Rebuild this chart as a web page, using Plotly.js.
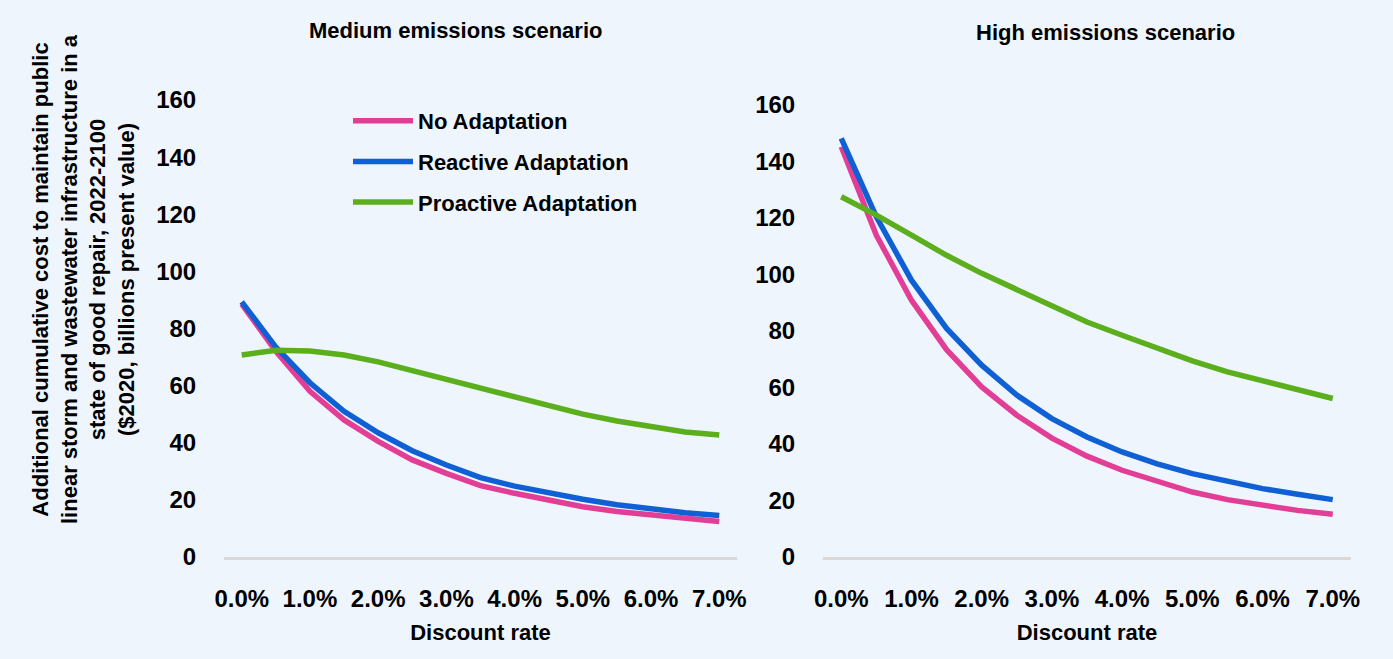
<!DOCTYPE html>
<html>
<head>
<meta charset="utf-8">
<script src="https://cdn.plot.ly/plotly-3.0.1.min.js"></script>
<style>html,body{margin:0;padding:0;background:#EEF5FD;}#chart{width:1393px;height:659px;}</style>
</head>
<body>
<div id="chart"></div>
<script>
// Discount rates (%)
const discountRates = [0, 0.5, 1, 1.5, 2, 2.5, 3, 3.5, 4, 4.5, 5, 5.5, 6, 6.5, 7];
const tickValues = [0, 1, 2, 3, 4, 5, 6, 7];
const tickLabels = ["0.0%", "1.0%", "2.0%", "3.0%", "4.0%", "5.0%", "6.0%", "7.0%"];
const seriesNames = ["No Adaptation", "Reactive Adaptation", "Proactive Adaptation"];

// Medium emissions scenario
const mediumNo = [88.5, 72, 58, 48, 40.5, 34, 29.3, 25, 22.3, 19.9, 17.6, 15.9, 14.7, 13.5, 12.4];
const mediumReactive = [89.3, 73.5, 61, 51, 43.5, 37.2, 32.2, 27.8, 24.8, 22.3, 20.2, 18.3, 16.8, 15.5, 14.5];
const mediumProactive = [70.7, 72.4, 72.1, 70.7, 68.3, 65.2, 62, 58.8, 55.8, 52.8, 50, 47.6, 45.5, 43.8, 42.7];

// High emissions scenario
const highNo = [145.2, 113.9, 90.9, 73.4, 60.2, 50.2, 42.1, 35.7, 30.7, 26.6, 23, 20.3, 18.3, 16.5, 15.1];
const highReactive = [148.2, 120.4, 98, 80.9, 67.9, 57.3, 49, 42.5, 37.2, 33, 29.5, 26.6, 24.2, 22.2, 20.3];
const highProactive = [127.5, 121, 113.9, 106.8, 100.4, 94.5, 88.8, 83.2, 78.5, 73.8, 69.4, 65.5, 62.3, 59, 56.1];

const colors = ["#E33E96", "#0F5FD5", "#5BAE1C"];
const FONT = "'Liberation Sans Narrow', 'Arial Narrow', 'Liberation Sans', Arial, sans-serif";
const W = 1393, H = 659;
const px = v => v / W, py = v => 1 - v / H;

const medium = [mediumNo, mediumReactive, mediumProactive];
const high = [highNo, highReactive, highProactive];
const traces = [];
medium.forEach((ys, i) => traces.push({
  x: discountRates, y: ys, type: "scatter", mode: "lines", name: seriesNames[i],
  line: {color: colors[i], width: 5.5}, xaxis: "x", yaxis: "y",
  legendgroup: "g" + i, showlegend: true
}));
high.forEach((ys, i) => traces.push({
  x: discountRates, y: ys, type: "scatter", mode: "lines", name: seriesNames[i],
  line: {color: colors[i], width: 5.5}, xaxis: "x2", yaxis: "y2",
  legendgroup: "g" + i, showlegend: false
}));

const tickFont = {family: FONT, size: 24, color: "#000000", weight: "bold"};
const xBase = {
  range: [-0.26, 7.26], tickmode: "array", tickvals: tickValues, ticktext: tickLabels,
  showgrid: false, zeroline: false, showline: true, linecolor: "#D9D9D9", linewidth: 3,
  ticks: "outside", ticklen: 18, tickcolor: "rgba(0,0,0,0)", tickfont: tickFont,
  title: {text: "Discount rate", font: {family: FONT, size: 22, color: "#000", weight: "bold"}, standoff: 14}
};
const yBase = {
  range: [0, 160], tickvals: [0, 20, 40, 60, 80, 100, 120, 140, 160],
  showgrid: false, zeroline: false, showline: false,
  ticks: "outside", ticklen: 22, tickcolor: "rgba(0,0,0,0)", tickfont: tickFont
};

const layout = {
  width: W, height: H,
  margin: {l: 0, r: 0, t: 0, b: 0},
  paper_bgcolor: "#EEF5FD", plot_bgcolor: "#EEF5FD",
  showlegend: true,
  legend: {
    x: px(348), y: py(100), xanchor: "left", yanchor: "top",
    bgcolor: "rgba(0,0,0,0)", font: {family: FONT, size: 22, color: "#000", weight: "bold"},
    traceorder: "grouped", tracegroupgap: 9, itemwidth: 60
  },
  xaxis: Object.assign({}, xBase, {domain: [px(224), px(737)], anchor: "y"}),
  yaxis: Object.assign({}, yBase, {domain: [py(557), py(100)], anchor: "x"}),
  xaxis2: Object.assign({}, xBase, {domain: [px(823), px(1351)], anchor: "y2"}),
  yaxis2: Object.assign({}, yBase, {domain: [py(557), py(105)], anchor: "x2"}),
  annotations: [
    {text: "Medium emissions scenario", x: px(455), y: py(31), xref: "paper", yref: "paper",
     xanchor: "center", yanchor: "middle", showarrow: false,
     font: {family: FONT, size: 22, color: "#000", weight: "bold"}},
    {text: "High emissions scenario", x: px(1105), y: py(33), xref: "paper", yref: "paper",
     xanchor: "center", yanchor: "middle", showarrow: false,
     font: {family: FONT, size: 22, color: "#000", weight: "bold"}},
    {text: "Additional cumulative cost to maintain public<br>linear storm and wastewater infrastructure in a<br>state of good repair, 2022-2100<br>($2020, billions present value)",
     x: px(83), y: py(279), xref: "paper", yref: "paper", xanchor: "center", yanchor: "middle",
     textangle: -90, showarrow: false, align: "center",
     font: {family: FONT, size: 22, color: "#000", weight: "bold"}}
  ]
};

Plotly.newPlot("chart", traces, layout, {displayModeBar: false, staticPlot: true});
</script>
</body>
</html>
